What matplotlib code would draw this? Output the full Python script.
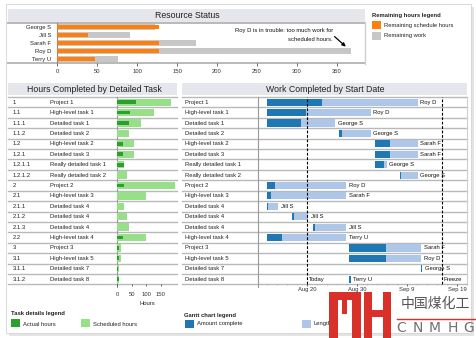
import datetime as dt
import matplotlib
matplotlib.use("Agg")
import matplotlib.pyplot as plt
import matplotlib.dates as mdates
from matplotlib.patches import Rectangle
from matplotlib.ticker import FuncFormatter, MultipleLocator

# ---------------- data ----------------
resources = ["George S", "Jill S", "Sarah F", "Roy D", "Terry U"]
remaining_schedule = [128, 39, 128, 128, 48]
remaining_work = [122, 91, 174, 367, 76]

task_ids = ["1", "1.1", "1.1.1", "1.1.2", "1.2", "1.2.1", "1.2.1.1", "1.2.1.2",
            "2", "2.1", "2.1.1", "2.1.2", "2.1.3", "2.2", "3", "3.1", "3.1.1", "3.1.2"]
task_names = ["Project 1", "High-level task 1", "Detailed task 1", "Detailed task 2",
              "High-level task 2", "Detailed task 3", "Really detailed task 1",
              "Really detailed task 2", "Project 2", "High-level task 3",
              "Detailed task 4", "Detailed task 4", "Detailed task 4",
              "High-level task 4", "Project 3", "High-level task 5",
              "Detailed task 7", "Detailed task 8"]
actual_hours = [65, 44, 41, 1.5, 20, 20, 23, 1.5, 24, 1.5, 1.5, 1.5, 1.5, 20, 7, 7, 5, 6]
scheduled_hours = [184, 126, 82, 41, 58, 58, 25, 34, 198, 99, 24, 34, 41, 99, 14, 14, 7, 8]

start_dates = ["2009-08-12", "2009-08-12", "2009-08-12", "2009-08-26", "2009-09-02",
               "2009-09-02", "2009-09-02", "2009-09-07", "2009-08-12", "2009-08-12",
               "2009-08-12", "2009-08-17", "2009-08-21", "2009-08-12", "2009-08-28",
               "2009-08-28", "2009-09-11", "2009-08-28"]
start_offsets = [0, 0, 0, 0.5, 0.6, 0.6, 0.6, 0.6, 0, 0, 0, 0.1, 0.3, 0, 0.4, 0.4, 0.8, 0.4]
length_days = [30.2, 20.8, 13.7, 6.3, 8.6, 8.6, 2.4, 3.6, 15.9, 15.9, 2.3, 3.2, 6.6,
               15.9, 14.5, 14.5, 0.3, 0.4]
complete_days = [11.0, 7.8, 6.9, 0.5, 3.0, 3.0, 1.8, 0.3, 1.7, 0.8, 0.3, 0.4, 0.3,
                 3.1, 7.4, 7.4, 0.3, 0.4]
owners = ["Roy D", "Roy D", "George S", "George S", "Sarah F", "Sarah F", "George S",
          "George S", "Roy D", "Sarah F", "Jill S", "Jill S", "Jill S", "Terry U",
          "Sarah F", "Roy D", "George S", "Terry U"]
today = "2009-08-20"
freeze = "2009-09-16"
gantt_ticks = ["2009-08-20", "2009-08-30", "2009-09-09", "2009-09-19"]

# ---------------- style ----------------
plt.rcParams['font.family'] = ['Liberation Sans', 'DejaVu Sans']
ORANGE = "#ff7f0e"
GREY = "#c7c7c7"
DKGREEN = "#2ca02c"
LTGREEN = "#98df8a"
DKBLUE = "#1f77b4"
LTBLUE = "#aec7e8"
BAND = "#e6e7ec"
RULE = "#b9b9b9"
LOGO_RED = "#d9302a"
SMALL = 4.2
TITLE = 6.3

W, H = 477, 338
fig = plt.figure(figsize=(W / 100, H / 100), dpi=100)


def box(x0, y0, x1, y1, **kw):
    return fig.add_axes([x0 / W, 1 - y1 / H, (x1 - x0) / W, (y1 - y0) / H], **kw)


bg = box(0, 0, W, H)
bg.set_xlim(0, W)
bg.set_ylim(H, 0)
bg.axis('off')

# card with soft shadow
bg.add_patch(Rectangle((9, 7), 465, 329, fc="#e4e4e4", ec="none", zorder=0))
bg.add_patch(Rectangle((6, 4), 465, 329, fc="white", ec="#d4d4d4", lw=0.6, zorder=0.5))

# title bands
for (x0, y0, x1, y1, label, cx) in [(8, 9, 365, 22, "Resource Status", 187),
                                      (8, 83, 177, 95, "Hours Completed by Detailed Task", 94),
                                      (182, 83, 467, 95, "Work Completed by Start Date", 325)]:
    bg.add_patch(Rectangle((x0, y0), x1 - x0, y1 - y0, fc=BAND, ec="none", zorder=1))
    bg.text(cx, (y0 + y1) / 2 + 0.5, label, ha="center", va="center", fontsize=TITLE,
            color="#222222", zorder=2)

# ---------------- resource status ----------------
ax1 = box(57, 23, 365, 63)
ax1.patch.set_alpha(0)
y = range(len(resources))
ax1.barh(y, remaining_work, height=0.82, color=GREY, zorder=2)
ax1.barh(y, remaining_schedule, height=0.42, color=ORANGE, zorder=3)
ax1.set_ylim(len(resources) - 0.5, -0.5)
ax1.set_xlim(0, 385)
ax1.set_yticks(list(y))
ax1.set_yticklabels(resources, fontsize=SMALL, color="#222222")
ax1.set_xticks(range(0, 351, 50))
ax1.tick_params(axis="y", length=0, pad=4)
ax1.tick_params(axis="x", length=2, width=0.5, pad=2.5, labelsize=SMALL, colors="#333333")
for s in ("top", "bottom", "right"):
    ax1.spines[s].set_visible(False)
ax1.spines["left"].set_color("#888888")
ax1.spines["left"].set_linewidth(0.8)
bg.plot([8, 365], [23, 23], color=RULE, lw=1.4, zorder=1)
bg.plot([8, 365], [63, 63], color=RULE, lw=1.4, zorder=1)
bg.plot([365, 365], [22, 63.5], color="#cfcfcf", lw=1.0, zorder=1)

ax1.text(345, 1.0, "Roy D is in trouble: too much work for\nscheduled hours.",
         ha="right", va="center", fontsize=SMALL, color="#111111", linespacing=1.9)
ax1.annotate("", xy=(361, 2.45), xytext=(347, 1.2),
             arrowprops=dict(arrowstyle="-|>", color="black", lw=0.9,
                             mutation_scale=5, shrinkA=0, shrinkB=0))

# legend for remaining hours
bg.text(372, 15, "Remaining hours legend", fontsize=SMALL, fontweight="bold",
        va="center", color="#222222")
bg.add_patch(Rectangle((372, 21), 9, 8, fc=ORANGE, ec="none"))
bg.text(384, 25, "Remaining schedule hours", fontsize=SMALL, va="center", color="#222222")
bg.add_patch(Rectangle((372, 32), 9, 8, fc=GREY, ec="none"))
bg.text(384, 36, "Remaining work", fontsize=SMALL, va="center", color="#222222")

# ---------------- table rows ----------------
n = len(task_ids)
row_top, row_bot = 97.0, 284.4
pitch = (row_bot - row_top) / n
for i in range(n + 1):
    yy = row_top + i * pitch
    bg.plot([8, 177], [yy, yy], color=RULE, lw=1.0, zorder=1)
    bg.plot([182, 467], [yy, yy], color=RULE, lw=1.0, zorder=1)
for i in range(n):
    yc = row_top + (i + 0.5) * pitch
    bg.text(13, yc, task_ids[i], fontsize=SMALL, va="center", color="#222222")
    bg.text(50, yc, task_names[i], fontsize=SMALL, va="center", color="#222222")
    bg.text(185, yc, task_names[i], fontsize=SMALL, va="center", color="#222222")
bg.plot([117, 117], [97, 287], color="#999999", lw=0.8, zorder=1)
bg.plot([258, 258], [97, 287], color="#999999", lw=0.8, zorder=1)
bg.plot([467, 467], [97, 284.4], color="#cfcfcf", lw=0.8, zorder=1)

# ---------------- hours by task ----------------
ax2 = box(117, row_top, 177, row_bot)
ax2.patch.set_alpha(0)
rows = range(n)
ax2.barh(rows, scheduled_hours, height=0.7, color=LTGREEN, zorder=2)
ax2.barh(rows, actual_hours, height=0.36, color=DKGREEN, zorder=3)
ax2.set_ylim(n - 0.5, -0.5)
ax2.set_xlim(0, 205)
ax2.set_yticks([])
ax2.set_xticks([0, 50, 100, 150])
ax2.tick_params(axis="x", length=1.5, width=0.5, pad=4, labelsize=SMALL, colors="#333333")
for s in ax2.spines.values():
    s.set_visible(False)
ax2.set_xlabel("Hours", fontsize=SMALL, labelpad=3, color="#222222")

bg.text(11, 314, "Task details legend", fontsize=SMALL, fontweight="bold", va="center",
        color="#222222")
bg.add_patch(Rectangle((11, 319), 9, 8, fc=DKGREEN, ec="none"))
bg.text(23, 324, "Actual hours", fontsize=SMALL, va="center", color="#222222")
bg.add_patch(Rectangle((81, 319), 9, 8, fc=LTGREEN, ec="none"))
bg.text(93, 324, "Scheduled hours", fontsize=SMALL, va="center", color="#222222")

# ---------------- gantt ----------------
ax3 = box(258, row_top, 467, row_bot)
ax3.patch.set_alpha(0)
starts = [mdates.datestr2num(d) + o for d, o in zip(start_dates, start_offsets)]
ax3.barh(rows, length_days, left=starts, height=0.68, color=LTBLUE, zorder=2)
ax3.barh(rows, complete_days, left=starts, height=0.68, color=DKBLUE, zorder=3)
for i in rows:
    ax3.text(starts[i] + length_days[i] + 0.5, i, owners[i], fontsize=SMALL,
             va="center", ha="left", color="#111111", zorder=4)
t_today = mdates.datestr2num(today)
t_freeze = mdates.datestr2num(freeze)
ax3.axvline(t_today, color="black", lw=0.8, ls=(0, (2.5, 1.5)), zorder=5, clip_on=False)
ax3.axvline(t_freeze, color="black", lw=0.8, ls=(0, (2.5, 1.5)), zorder=5, clip_on=False)
ax3.text(t_today + 0.4, n - 1, "Today", fontsize=SMALL, va="center", color="#111111",
         zorder=6, bbox=dict(fc="white", ec="none", pad=0.3))
ax3.text(t_freeze + 0.4, n - 1, "Freeze", fontsize=SMALL, va="center", color="#111111",
         zorder=6, bbox=dict(fc="white", ec="none", pad=0.3))
ax3.set_xlim(mdates.datestr2num("2009-08-10") + 0.25, mdates.datestr2num("2009-09-21"))
ax3.set_ylim(n - 0.5, -0.5)
ax3.set_yticks([])
ax3.set_xticks([mdates.datestr2num(d) for d in gantt_ticks])
ax3.xaxis.set_minor_locator(MultipleLocator(2))
ax3.xaxis.set_major_formatter(FuncFormatter(
    lambda v, _: f"{mdates.num2date(v):%b} {mdates.num2date(v).day}"))
ax3.tick_params(axis="x", which="major", length=1.2, width=0.5, pad=0.5, labelsize=SMALL,
                colors="#333333")
ax3.tick_params(axis="x", which="minor", length=1, width=0.4, colors="#999999")
for s in ax3.spines.values():
    s.set_visible(False)

bg.text(184, 315, "Gantt chart legend", fontsize=SMALL, fontweight="bold", va="center",
        color="#222222")
bg.add_patch(Rectangle((185, 320), 9, 8, fc=DKBLUE, ec="none"))
bg.text(197, 324, "Amount complete", fontsize=SMALL, va="center", color="#222222")
bg.add_patch(Rectangle((302, 320), 9, 8, fc=LTBLUE, ec="none"))
bg.text(314, 324, "Length", fontsize=SMALL, va="center", color="#222222")

# ---------------- site mark, lower right ----------------
logo = fig.add_axes([0, 0, 1, 1], zorder=10)
logo.set_xlim(0, W)
logo.set_ylim(H, 0)
logo.axis('off')
logo.patch.set_alpha(0)
for (x0, y0, x1, y1) in [(329, 292, 338, 338), (329, 292, 361, 300), (352, 292, 361, 338),
                         (342, 300, 347, 314), (364, 292, 372, 338), (383, 292, 391, 338),
                         (372, 310, 383, 317)]:
    logo.add_patch(Rectangle((x0, y0), x1 - x0, y1 - y0, fc=LOGO_RED, ec="none"))
logo.text(435, 304, "中国煤化工", ha="center", va="center", fontsize=10, color="#555555",
          family=["Noto Sans CJK SC", "DejaVu Sans"])
logo.plot([397, 477], [318.5, 318.5], color=LOGO_RED, lw=1.0)
for ch, cx in zip("CNMHG", [401, 418, 435, 453, 469]):
    logo.text(cx, 328, ch, ha="center", va="center", fontsize=10, color="#707070",
              family=["DejaVu Sans"])

fig.savefig("out.png", dpi=100, facecolor="white")
